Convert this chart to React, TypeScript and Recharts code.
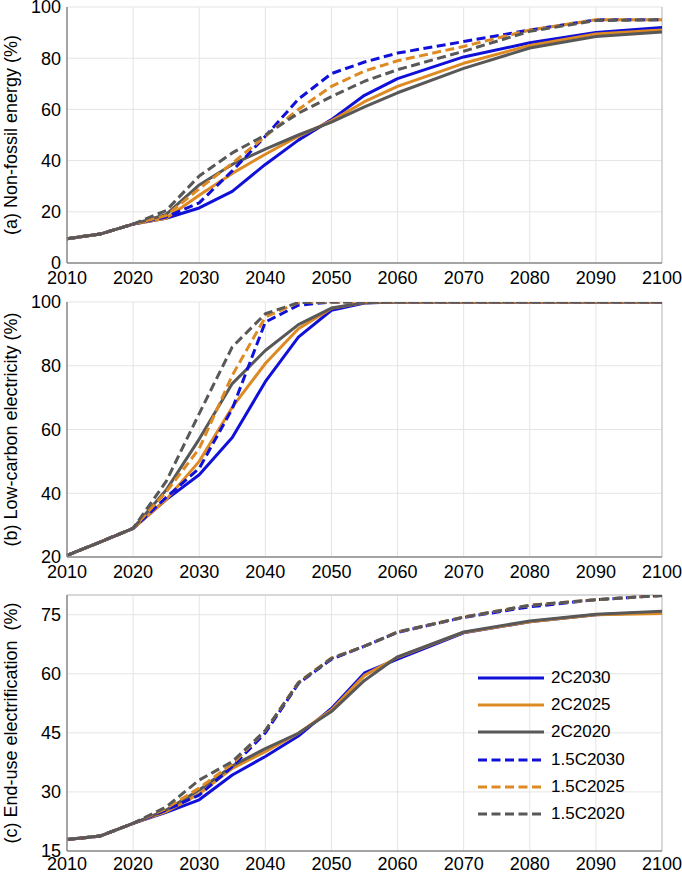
import { LineChart, Line, XAxis, YAxis, CartesianGrid, ReferenceLine, Legend } from "recharts";

// ---------------------------------------------------------------------------
// Data
// ---------------------------------------------------------------------------

const years = [2010, 2015, 2020, 2025, 2030, 2035, 2040, 2045, 2050, 2055, 2060, 2070, 2080, 2090, 2100];
const xTicks = [2010, 2020, 2030, 2040, 2050, 2060, 2070, 2080, 2090, 2100];

// (a) non-fossil energy share (%)
const nonFossil2C2030 = [9.5, 11.3, 15.2, 17.5, 21.5, 28, 38.5, 48, 56, 65.5, 72, 80.5, 86, 90, 92];
const nonFossil2C2025 = [9.5, 11.3, 15.2, 17.5, 26.5, 35, 42.5, 49.5, 55.5, 63, 69, 78, 85, 89.5, 91];
const nonFossil2C2020 = [9.5, 11.3, 15.2, 19, 30.5, 38.5, 44.5, 50, 55, 61, 66.5, 76, 84, 88.5, 90.2];
const nonFossil15C2030 = [9.5, 11.3, 15.2, 18, 23.5, 36, 49.5, 64, 74, 78.5, 82, 86.5, 91, 95, 95];
const nonFossil15C2025 = [9.5, 11.3, 15.2, 18.5, 29, 39, 49.5, 60, 69, 75, 79, 84.6, 91, 95, 95];
const nonFossil15C2020 = [9.5, 11.3, 15.2, 20.5, 34, 43, 50, 58.5, 65, 71, 75.5, 82.7, 90.5, 94.7, 95];

// (b) low-carbon electricity share (%)
const lowCarbon2C2030 = [20.5, 24.7, 29, 38, 45.8, 57.5, 75, 89, 97.4, 99.7, 100, 100, 100, 100, 100];
const lowCarbon2C2025 = [20.5, 24.7, 29, 38, 50, 67, 80.7, 91.6, 98, 99.8, 100, 100, 100, 100, 100];
const lowCarbon2C2020 = [20.5, 24.7, 29, 41, 57, 74.4, 84.8, 92.9, 98.1, 99.8, 100, 100, 100, 100, 100];
const lowCarbon15C2030 = [20.5, 24.7, 29, 38.7, 47.8, 66.5, 93.7, 99, 100, 100, 100, 100, 100, 100, 100];
const lowCarbon15C2025 = [20.5, 24.7, 29, 40.4, 54, 77, 95.3, 99.8, 100, 100, 100, 100, 100, 100, 100];
const lowCarbon15C2020 = [20.5, 24.7, 29, 43.7, 65, 85.9, 96.3, 99.8, 100, 100, 100, 100, 100, 100, 100];

// (c) end-use electrification (%)
const elec2C2030 = [17.9, 18.8, 22, 24.8, 28, 34.3, 39, 44.2, 51.2, 60.2, 63.7, 70.4, 73.2, 75, 75.7];
const elec2C2025 = [17.9, 18.8, 22, 25, 29.5, 36, 40.2, 44.9, 50.8, 59.6, 64.2, 70.5, 73.2, 75, 75.3];
const elec2C2020 = [17.9, 18.8, 22, 25.4, 30.5, 36.6, 41, 44.9, 50.4, 58.3, 64.3, 70.6, 73.4, 75.1, 75.9];
const elec15C2030 = [17.9, 18.8, 22, 25.4, 29.2, 36.4, 45, 57.5, 63.7, 67, 70.5, 74.3, 77, 78.8, 79.9];
const elec15C2025 = [17.9, 18.8, 22, 25.8, 31, 37.1, 45.6, 57.8, 64, 67, 70.6, 74.4, 77.4, 78.8, 79.9];
const elec15C2020 = [17.9, 18.8, 22, 26.2, 33, 37.7, 45.6, 57.7, 63.9, 67, 70.6, 74.4, 77.4, 78.8, 79.9];

// ---------------------------------------------------------------------------
// Styling
// ---------------------------------------------------------------------------

const FONT = "'Liberation Sans', Arial, Helvetica, sans-serif";
const BLUE = "#1010d8";
const ORANGE = "#de8a22";
const GRAY = "#585858";
const DASH = "9 4.5";

const SERIES = [
  { key: "s2C2030", name: "2C2030", color: BLUE, dash: undefined },
  { key: "s2C2025", name: "2C2025", color: ORANGE, dash: undefined },
  { key: "s2C2020", name: "2C2020", color: GRAY, dash: undefined },
  { key: "s15C2030", name: "1.5C2030", color: BLUE, dash: DASH },
  { key: "s15C2025", name: "1.5C2025", color: ORANGE, dash: DASH },
  { key: "s15C2020", name: "1.5C2020", color: GRAY, dash: DASH },
];

function buildRows(cols: number[][]) {
  return years.map((year, i) => {
    const row: Record<string, number> = { year };
    SERIES.forEach((s, j) => {
      row[s.key] = cols[j][i];
    });
    return row;
  });
}

const nonFossilData = buildRows([
  nonFossil2C2030, nonFossil2C2025, nonFossil2C2020,
  nonFossil15C2030, nonFossil15C2025, nonFossil15C2020,
]);
const lowCarbonData = buildRows([
  lowCarbon2C2030, lowCarbon2C2025, lowCarbon2C2020,
  lowCarbon15C2030, lowCarbon15C2025, lowCarbon15C2020,
]);
const elecData = buildRows([
  elec2C2030, elec2C2025, elec2C2020,
  elec15C2030, elec15C2025, elec15C2020,
]);

// ---------------------------------------------------------------------------
// Pieces
// ---------------------------------------------------------------------------

function yTitle(text: string) {
  return (props: any) => {
    const vb = props.viewBox || {};
    const cx = 11;
    const cy = vb.y + vb.height / 2;
    return (
      <text
        x={cx}
        y={cy}
        transform={`rotate(-90 ${cx} ${cy})`}
        textAnchor="middle"
        dominantBaseline="central"
        fontSize={18}
        fontFamily={FONT}
        fill="#000"
        style={{ whiteSpace: "pre" }}
      >
        {text}
      </text>
    );
  };
}

function LegendBox() {
  return (
    <div style={{ fontFamily: FONT, fontSize: 17, color: "#000" }}>
      {SERIES.map((s) => (
        <div key={s.key} style={{ display: "flex", alignItems: "center", height: 27.3 }}>
          <svg width={70} height={10} style={{ display: "block" }}>
            <line x1={0} y1={5} x2={66} y2={5} stroke={s.color} strokeWidth={3} strokeDasharray={s.dash} />
          </svg>
          <span style={{ marginLeft: 3 }}>{s.name}</span>
        </div>
      ))}
    </div>
  );
}

interface PanelProps {
  data: Record<string, number>[];
  top: number;
  height: number;
  xAxisHeight: number;
  xTickMargin: number;
  domain: [number, number];
  ticks: number[];
  title: string;
  frameTop?: number;
  legend?: boolean;
}

function Panel({ data, top, height, xAxisHeight, xTickMargin, domain, ticks, title, frameTop, legend }: PanelProps) {
  const tickStyle = { fontSize: 18, fill: "#000", fontFamily: FONT };
  return (
    <div style={{ position: "absolute", left: 0, top }}>
      <LineChart width={682} height={height} data={data} margin={{ top: 7, right: 20, bottom: 0, left: 0 }}>
        <CartesianGrid stroke="#e4e4e4" strokeWidth={1} />
        {frameTop !== undefined && <ReferenceLine y={frameTop} stroke="#cfcfcf" strokeWidth={1.5} />}
        <ReferenceLine x={2100} stroke="#cfcfcf" strokeWidth={1.5} />
        <XAxis
          dataKey="year"
          type="number"
          domain={[2010, 2100]}
          ticks={xTicks}
          height={xAxisHeight}
          tick={tickStyle}
          tickLine={false}
          tickSize={4}
          tickMargin={xTickMargin}
          axisLine={{ stroke: "#8a8a8a", strokeWidth: 1.5 }}
          interval={0}
        />
        <YAxis
          type="number"
          domain={domain}
          ticks={ticks}
          width={67}
          tick={tickStyle}
          tickLine={false}
          tickSize={5}
          tickMargin={1}
          axisLine={{ stroke: "#8a8a8a", strokeWidth: 1.5 }}
          interval={0}
          allowDataOverflow
          label={{ content: yTitle(title) }}
        />
        {SERIES.map((s) => (
          <Line
            key={s.key}
            dataKey={s.key}
            name={s.name}
            type="linear"
            stroke={s.color}
            strokeWidth={3}
            strokeDasharray={s.dash}
            strokeLinejoin="round"
            dot={false}
            activeDot={false}
            isAnimationActive={false}
          />
        ))}
        {legend && (
          <Legend
            layout="vertical"
            align="center"
            verticalAlign="middle"
            content={<LegendBox />}
            wrapperStyle={{ position: "absolute", left: 478, top: 76, width: 170 }}
          />
        )}
      </LineChart>
    </div>
  );
}

export default function App() {
  return (
    <div style={{ position: "absolute", left: 0, top: 0, width: 682, height: 873, background: "#fff", overflow: "hidden" }}>
      <Panel
        data={nonFossilData}
        top={0}
        height={290}
        xAxisHeight={27}
        xTickMargin={4}
        domain={[0, 100]}
        ticks={[0, 20, 40, 60, 80, 100]}
        title="(a) Non-fossil energy (%)"
      />
      <Panel
        data={lowCarbonData}
        top={295}
        height={289}
        xAxisHeight={27}
        xTickMargin={4}
        domain={[20, 100]}
        ticks={[20, 40, 60, 80, 100]}
        title="(b) Low-carbon electricity (%)"
      />
      <Panel
        data={elecData}
        top={588}
        height={285}
        xAxisHeight={22}
        xTickMargin={2}
        domain={[15, 80]}
        ticks={[15, 30, 45, 60, 75]}
        title="(c) End-use electrification  (%)"
        frameTop={80}
        legend
      />
    </div>
  );
}
